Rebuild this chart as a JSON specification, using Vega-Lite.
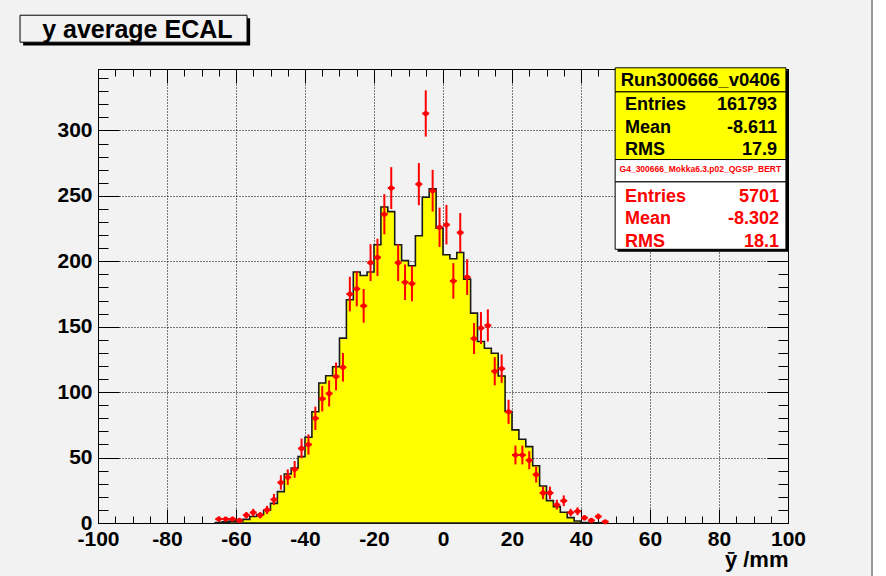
{
  "$schema": "https://vega.github.io/schema/vega-lite/v6.json",
  "width": 690,
  "height": 454,
  "autosize": {"type": "none"},
  "padding": {"left": 98, "top": 69, "right": 85, "bottom": 53},
  "background": "#f2f2f2",
  "config": {
    "view": {"fill": "#f2f2f2", "stroke": "#000000", "strokeWidth": 1},
    "axis": {"domain": false, "grid": false, "labels": false, "tickColor": "#000000", "tickWidth": 1,
      "labelFont": "Liberation Sans", "labelFontWeight": "bold", "labelFontSize": 21, "labelColor": "#000000",
      "titleFont": "Liberation Sans", "titleFontWeight": "bold", "titleFontSize": 22, "titleColor": "#000000",
      "labelFlush": false, "labelOverlap": false, "labelBound": false},
    "text": {"font": "Liberation Sans", "fontWeight": "bold"}
  },
  "resolve": {"axis": {"x": "independent", "y": "independent"}},
  "datasets": {
    "hist": [
      {"x": -66, "y": 0.4}, {"x": -64, "y": 1.0}, {"x": -62, "y": 1.4}, {"x": -60, "y": 1.6}, {"x": -58, "y": 2.8},
      {"x": -56, "y": 5.0}, {"x": -54, "y": 6.5}, {"x": -52, "y": 9.8}, {"x": -50, "y": 15}, {"x": -48, "y": 24},
      {"x": -46, "y": 37.5}, {"x": -44, "y": 42}, {"x": -42, "y": 50.7}, {"x": -40, "y": 65.5}, {"x": -38, "y": 85},
      {"x": -36, "y": 107}, {"x": -34, "y": 112.5}, {"x": -32, "y": 119.4}, {"x": -30, "y": 141.3}, {"x": -28, "y": 170.6},
      {"x": -26, "y": 191.8}, {"x": -24, "y": 189.2}, {"x": -22, "y": 191.8}, {"x": -20, "y": 212.7}, {"x": -18, "y": 241.5},
      {"x": -16, "y": 238}, {"x": -14, "y": 212.7}, {"x": -12, "y": 200.5}, {"x": -10, "y": 196.6}, {"x": -8, "y": 219.6},
      {"x": -6, "y": 249}, {"x": -4, "y": 255.4}, {"x": -2, "y": 225.4}, {"x": 0, "y": 205}, {"x": 2, "y": 202},
      {"x": 4, "y": 206.8}, {"x": 6, "y": 186.4}, {"x": 8, "y": 160.4}, {"x": 10, "y": 138.7}, {"x": 12, "y": 133.6},
      {"x": 14, "y": 129.8}, {"x": 16, "y": 112.3}, {"x": 18, "y": 85.2}, {"x": 20, "y": 71.2}, {"x": 22, "y": 64},
      {"x": 24, "y": 58.4}, {"x": 26, "y": 43.8}, {"x": 28, "y": 28.3}, {"x": 30, "y": 17.1}, {"x": 32, "y": 12.5},
      {"x": 34, "y": 8.2}, {"x": 36, "y": 4.1}, {"x": 38, "y": 1.5}, {"x": 40, "y": 0.4}, {"x": 42, "y": 0.2},
      {"x": 44, "y": 0.1}, {"x": 46, "y": 0}
    ],
    "mc": [
      {"x": -65, "y": 3, "lo": 1.27, "hi": 4.73}, {"x": -63, "y": 3, "lo": 1.27, "hi": 4.73},
      {"x": -61, "y": 3, "lo": 1.27, "hi": 4.73}, {"x": -59, "y": 2, "lo": 0.59, "hi": 3.41},
      {"x": -57, "y": 6, "lo": 3.55, "hi": 8.45}, {"x": -55, "y": 8, "lo": 5.17, "hi": 10.83},
      {"x": -53, "y": 6, "lo": 3.55, "hi": 8.45}, {"x": -51, "y": 10, "lo": 6.84, "hi": 13.16},
      {"x": -49, "y": 18, "lo": 13.76, "hi": 22.24}, {"x": -47, "y": 31, "lo": 25.43, "hi": 36.57},
      {"x": -45, "y": 35, "lo": 29.08, "hi": 40.92}, {"x": -43, "y": 41, "lo": 34.6, "hi": 47.4},
      {"x": -41, "y": 57, "lo": 49.45, "hi": 64.55}, {"x": -39, "y": 60, "lo": 52.25, "hi": 67.75},
      {"x": -37, "y": 80, "lo": 71.06, "hi": 88.94}, {"x": -35, "y": 95, "lo": 85.25, "hi": 104.75},
      {"x": -33, "y": 99, "lo": 89.05, "hi": 108.95}, {"x": -31, "y": 112, "lo": 101.42, "hi": 122.58},
      {"x": -29, "y": 119, "lo": 108.09, "hi": 129.91}, {"x": -27, "y": 175, "lo": 161.77, "hi": 188.23},
      {"x": -25, "y": 179, "lo": 165.62, "hi": 192.38}, {"x": -23, "y": 166, "lo": 153.12, "hi": 178.88},
      {"x": -21, "y": 199, "lo": 184.89, "hi": 213.11}, {"x": -19, "y": 203, "lo": 188.75, "hi": 217.25},
      {"x": -17, "y": 236, "lo": 220.64, "hi": 251.36}, {"x": -15, "y": 256, "lo": 240, "hi": 272},
      {"x": -13, "y": 199, "lo": 184.89, "hi": 213.11}, {"x": -11, "y": 184, "lo": 170.44, "hi": 197.56},
      {"x": -9, "y": 183, "lo": 169.47, "hi": 196.53}, {"x": -7, "y": 259, "lo": 242.91, "hi": 275.09},
      {"x": -5, "y": 313, "lo": 295.31, "hi": 330.69}, {"x": -3, "y": 254, "lo": 238.06, "hi": 269.94},
      {"x": -1, "y": 226, "lo": 210.97, "hi": 241.03}, {"x": 1, "y": 228, "lo": 212.9, "hi": 243.1},
      {"x": 3, "y": 185, "lo": 171.4, "hi": 198.6}, {"x": 5, "y": 222, "lo": 207.1, "hi": 236.9},
      {"x": 7, "y": 188, "lo": 174.29, "hi": 201.71}, {"x": 9, "y": 141, "lo": 129.13, "hi": 152.87},
      {"x": 11, "y": 149, "lo": 136.79, "hi": 161.21}, {"x": 13, "y": 151, "lo": 138.71, "hi": 163.29},
      {"x": 15, "y": 116, "lo": 105.23, "hi": 126.77}, {"x": 17, "y": 118, "lo": 107.14, "hi": 128.86},
      {"x": 19, "y": 85, "lo": 75.78, "hi": 94.22}, {"x": 21, "y": 52, "lo": 44.79, "hi": 59.21},
      {"x": 23, "y": 52, "lo": 44.79, "hi": 59.21}, {"x": 25, "y": 48, "lo": 41.07, "hi": 54.93},
      {"x": 27, "y": 37, "lo": 30.92, "hi": 43.08}, {"x": 29, "y": 23, "lo": 18.2, "hi": 27.8},
      {"x": 31, "y": 23, "lo": 18.2, "hi": 27.8}, {"x": 33, "y": 14, "lo": 10.26, "hi": 17.74},
      {"x": 35, "y": 17, "lo": 12.88, "hi": 21.12}, {"x": 37, "y": 8, "lo": 5.17, "hi": 10.83},
      {"x": 39, "y": 9, "lo": 6, "hi": 12}, {"x": 41, "y": 4, "lo": 2, "hi": 6},
      {"x": 43, "y": 2, "lo": 0.59, "hi": 3.41}, {"x": 45, "y": 5, "lo": 2.76, "hi": 7.24},
      {"x": 47, "y": 1, "lo": 0, "hi": 2}
    ]
  },
  "layer": [
    {
      "data": {"name": "hist"},
      "mark": {"type": "area", "interpolate": "step-after", "fill": "#ffff00", "stroke": "#1a1a1a", "strokeWidth": 1.6},
      "encoding": {
        "x": {"field": "x", "type": "quantitative", "scale": {"domain": [-100, 100], "nice": false, "zero": false},
          "axis": {"orient": "bottom", "values": [-100, -80, -60, -40, -20, 0, 20, 40, 60, 80, 100], "ticks": false, "labels": true,
            "labelPadding": 5, "labelExpr": "'' + datum.value", "grid": true, "gridDash": [1, 2], "gridColor": "#000000", "gridWidth": 1,
            "title": "ȳ /mm", "titleAnchor": "end", "titleAlign": "right", "titleX": 690, "titleY": 43, "titleBaseline": "alphabetic"}},
        "y": {"field": "y", "type": "quantitative", "scale": {"domain": [0, 347], "nice": false, "zero": false},
          "axis": {"orient": "left", "values": [0, 50, 100, 150, 200, 250, 300], "ticks": false, "labels": true, "labelPadding": 6,
            "grid": true, "gridDash": [1, 2], "gridColor": "#000000", "gridWidth": 1, "title": null}}
      }
    },
    {
      "data": {"name": "mc"},
      "mark": {"type": "rule", "color": "#ff0000", "strokeWidth": 2},
      "encoding": {
        "x": {"field": "x", "type": "quantitative",
          "axis": {"orient": "bottom", "values": [-100, -80, -60, -40, -20, 0, 20, 40, 60, 80, 100], "tickSize": -14, "title": null}},
        "y": {"field": "lo", "type": "quantitative",
          "axis": {"orient": "left", "values": [0, 50, 100, 150, 200, 250, 300], "tickSize": -21, "title": null}},
        "y2": {"field": "hi"}
      }
    },
    {
      "data": {"name": "mc"},
      "mark": {"type": "tick", "orient": "horizontal", "color": "#ff0000", "size": 7, "thickness": 2, "opacity": 1},
      "encoding": {
        "x": {"field": "x", "type": "quantitative",
          "axis": {"orient": "bottom", "values": [-100, -95, -90, -85, -80, -75, -70, -65, -60, -55, -50, -45, -40, -35, -30, -25, -20, -15, -10, -5, 0, 5, 10, 15, 20, 25, 30, 35, 40, 45, 50, 55, 60, 65, 70, 75, 80, 85, 90, 95, 100], "tickSize": -7, "title": null}},
        "y": {"field": "y", "type": "quantitative",
          "axis": {"orient": "left", "values": [0, 10, 20, 30, 40, 50, 60, 70, 80, 90, 100, 110, 120, 130, 140, 150, 160, 170, 180, 190, 200, 210, 220, 230, 240, 250, 260, 270, 280, 290, 300, 310, 320, 330, 340], "tickSize": -10, "title": null}}
      }
    },
    {
      "data": {"name": "mc"},
      "mark": {"type": "point", "filled": true, "shape": "circle", "size": 26, "color": "#ff0000", "opacity": 1},
      "encoding": {
        "x": {"field": "x", "type": "quantitative",
          "axis": {"orient": "top", "values": [-100, -80, -60, -40, -20, 0, 20, 40, 60, 80, 100], "tickSize": -14, "title": null}},
        "y": {"field": "y", "type": "quantitative",
          "axis": {"orient": "right", "values": [0, 50, 100, 150, 200, 250, 300], "tickSize": -21, "title": null}}
      }
    },
    {
      "data": {"values": [{}]},
      "mark": {"type": "rule", "stroke": "#999999", "strokeWidth": 2},
      "encoding": {
        "x": {"datum": 124.35, "type": "quantitative",
          "axis": {"orient": "top", "values": [-100, -95, -90, -85, -80, -75, -70, -65, -60, -55, -50, -45, -40, -35, -30, -25, -20, -15, -10, -5, 0, 5, 10, 15, 20, 25, 30, 35, 40, 45, 50, 55, 60, 65, 70, 75, 80, 85, 90, 95, 100], "tickSize": -7, "title": null}},
        "y": {"datum": -41, "type": "quantitative",
          "axis": {"orient": "right", "values": [0, 10, 20, 30, 40, 50, 60, 70, 80, 90, 100, 110, 120, 130, 140, 150, 160, 170, 180, 190, 200, 210, 220, 230, 240, 250, 260, 270, 280, 290, 300, 310, 320, 330, 340], "tickSize": -10, "title": null}},
        "y2": {"datum": 400}
      }
    },
    {
      "data": {"values": [{}]},
      "mark": {"type": "rect", "fill": "#000000"},
      "encoding": {
        "x": {"datum": -121.7, "type": "quantitative", "axis": null},
        "x2": {"datum": -55.9},
        "y": {"datum": 365, "type": "quantitative", "axis": null},
        "y2": {"datum": 385.8}
      }
    },
    {
      "data": {"values": [{}]},
      "mark": {"type": "rect", "fill": "#f2f2f2", "stroke": "#000000", "strokeWidth": 1},
      "encoding": {
        "x": {"datum": -122.6, "type": "quantitative", "axis": null},
        "x2": {"datum": -56.8},
        "y": {"datum": 367.5, "type": "quantitative", "axis": null},
        "y2": {"datum": 388.1}
      }
    },
    {
      "data": {"values": [{}]},
      "mark": {"type": "text", "text": "y average ECAL", "fontSize": 25, "align": "center", "baseline": "alphabetic", "color": "#000000"},
      "encoding": {
        "x": {"datum": -88.6, "type": "quantitative", "axis": null},
        "y": {"datum": 370.6, "type": "quantitative", "axis": null}
      }
    },
    {
      "data": {"values": [{}]},
      "mark": {"type": "rect", "fill": "#000000"},
      "encoding": {
        "x": {"datum": 50.6, "type": "quantitative", "axis": null},
        "x2": {"datum": 100.1},
        "y": {"datum": 207.4, "type": "quantitative", "axis": null},
        "y2": {"datum": 346.1}
      }
    },
    {
      "data": {"values": [{}]},
      "mark": {"type": "rect", "fill": "#ffff00", "stroke": "#000000", "strokeWidth": 1},
      "encoding": {
        "x": {"datum": 49.9, "type": "quantitative", "axis": null},
        "x2": {"datum": 99.4},
        "y": {"datum": 329.5, "type": "quantitative", "axis": null},
        "y2": {"datum": 347.9}
      }
    },
    {
      "data": {"values": [{}]},
      "mark": {"type": "rect", "fill": "#ffff00", "stroke": "#000000", "strokeWidth": 1},
      "encoding": {
        "x": {"datum": 49.9, "type": "quantitative", "axis": null},
        "x2": {"datum": 99.4},
        "y": {"datum": 277.8, "type": "quantitative", "axis": null},
        "y2": {"datum": 329.5}
      }
    },
    {
      "data": {"values": [{}]},
      "mark": {"type": "rect", "fill": "#ffffff", "stroke": "#000000", "strokeWidth": 1},
      "encoding": {
        "x": {"datum": 49.9, "type": "quantitative", "axis": null},
        "x2": {"datum": 99.4},
        "y": {"datum": 260.7, "type": "quantitative", "axis": null},
        "y2": {"datum": 277.8}
      }
    },
    {
      "data": {"values": [{}]},
      "mark": {"type": "rect", "fill": "#ffffff", "stroke": "#000000", "strokeWidth": 1},
      "encoding": {
        "x": {"datum": 49.9, "type": "quantitative", "axis": null},
        "x2": {"datum": 99.4},
        "y": {"datum": 209.2, "type": "quantitative", "axis": null},
        "y2": {"datum": 260.7}
      }
    },
    {
      "data": {"values": [{}]},
      "mark": {"type": "text", "text": "Run300666_v0406", "fontSize": 18.5, "align": "center", "baseline": "alphabetic", "color": "#000000"},
      "encoding": {
        "x": {"datum": 74.6, "type": "quantitative", "axis": null},
        "y": {"datum": 334.1, "type": "quantitative", "axis": null}
      }
    },
    {
      "data": {"values": [{}]},
      "mark": {"type": "text", "text": ["Entries", "Mean", "RMS"], "lineHeight": 22.3, "fontSize": 18, "align": "left", "baseline": "alphabetic", "color": "#000000"},
      "encoding": {
        "x": {"datum": 52.75, "type": "quantitative", "axis": null},
        "y": {"datum": 315.5, "type": "quantitative", "axis": null}
      }
    },
    {
      "data": {"values": [{}]},
      "mark": {"type": "text", "text": ["161793", "-8.611", "17.9"], "lineHeight": 22.3, "fontSize": 18, "align": "right", "baseline": "alphabetic", "color": "#000000"},
      "encoding": {
        "x": {"datum": 96.8, "type": "quantitative", "axis": null},
        "y": {"datum": 315.5, "type": "quantitative", "axis": null}
      }
    },
    {
      "data": {"values": [{}]},
      "mark": {"type": "text", "text": "G4_300666_Mokka6.3.p02_QGSP_BERT", "fontSize": 8.5, "align": "center", "baseline": "alphabetic", "color": "#ff0000"},
      "encoding": {
        "x": {"datum": 74.6, "type": "quantitative", "axis": null},
        "y": {"datum": 267.9, "type": "quantitative", "axis": null}
      }
    },
    {
      "data": {"values": [{}]},
      "mark": {"type": "text", "text": ["Entries", "Mean", "RMS"], "lineHeight": 22.5, "fontSize": 18, "align": "left", "baseline": "alphabetic", "color": "#ff0000"},
      "encoding": {
        "x": {"datum": 52.75, "type": "quantitative", "axis": null},
        "y": {"datum": 245.4, "type": "quantitative", "axis": null}
      }
    },
    {
      "data": {"values": [{}]},
      "mark": {"type": "text", "text": ["5701", "-8.302", "18.1"], "lineHeight": 22.5, "fontSize": 18, "align": "right", "baseline": "alphabetic", "color": "#ff0000"},
      "encoding": {
        "x": {"datum": 97.4, "type": "quantitative", "axis": null},
        "y": {"datum": 245.4, "type": "quantitative", "axis": null}
      }
    }
  ]
}
